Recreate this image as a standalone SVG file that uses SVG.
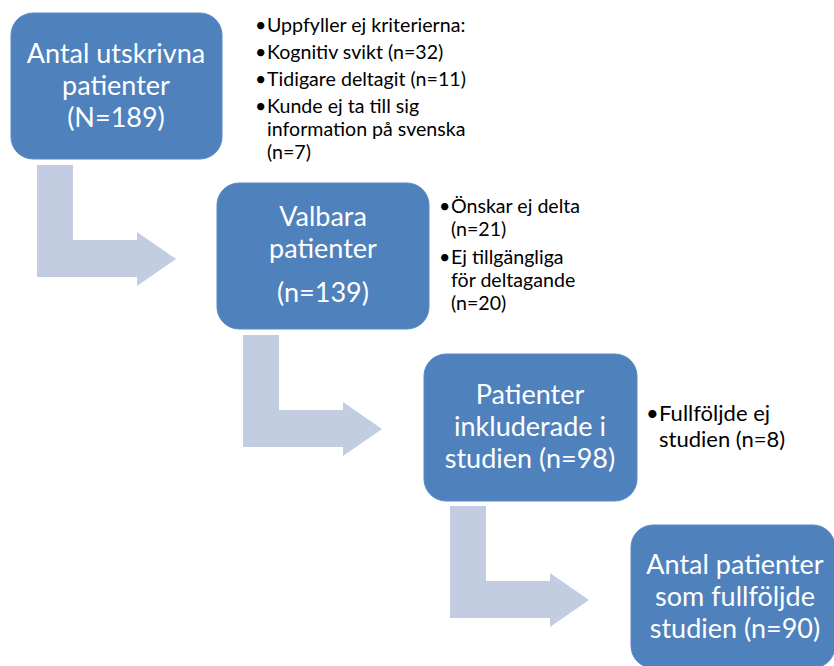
<svg xmlns="http://www.w3.org/2000/svg" width="834" height="666" viewBox="0 0 834 666">
<style>
.box{fill:#4F81BD;stroke:#5A8AC4;stroke-width:1}
.arrow{fill:#C3CDE2}
.bt{font-family:Lato,"Liberation Sans",sans-serif;font-size:27px;fill:#FFFFFF;text-anchor:middle}
.lt{font-family:Lato,"Liberation Sans",sans-serif;font-size:19.6px;fill:#000000}
.lt3{font-family:Lato,"Liberation Sans",sans-serif;font-size:22px;fill:#000000}
</style>
<rect width="834" height="666" fill="#FFFFFF"/>
<g id="connectors">
<path class="arrow" d="M37,165 H73 V240 H137 V232 L176,259 L137,286 V277 H37 Z"/>
<path class="arrow" d="M243,335 H279 V410 H343 V402 L382,429 L343,456 V447 H243 Z"/>
<path class="arrow" d="M450,506 H486 V581 H550 V573 L589,600 L550,627 V618 H450 Z"/>
</g>
<g id="node1">
<rect class="box" x="11" y="13" width="211" height="146" rx="22"/>
<text class="bt" x="116" y="63">Antal utskrivna</text>
<text class="bt" x="116" y="95">patienter</text>
<text class="bt" x="116" y="127">(N=189)</text>
</g>
<g id="list1">
<text class="lt" x="255" y="32">•</text><text class="lt" x="267" y="32">Uppfyller ej kriterierna:</text>
<text class="lt" x="255" y="59">•</text><text class="lt" x="267" y="59">Kognitiv svikt (n=32)</text>
<text class="lt" x="255" y="86">•</text><text class="lt" x="267" y="86">Tidigare deltagit (n=11)</text>
<text class="lt" x="255" y="113">•</text><text class="lt" x="267" y="113">Kunde ej ta till sig</text>
<text class="lt" x="267" y="136">information på svenska</text>
<text class="lt" x="267" y="159">(n=7)</text>
</g>
<g id="node2">
<rect class="box" x="217" y="183" width="212" height="146" rx="22"/>
<text class="bt" x="323" y="226">Valbara</text>
<text class="bt" x="323" y="258">patienter</text>
<text class="bt" x="323" y="302">(n=139)</text>
</g>
<g id="list2">
<text class="lt" x="439" y="213">•</text><text class="lt" x="451" y="213">Önskar ej delta</text>
<text class="lt" x="451" y="236">(n=21)</text>
<text class="lt" x="439" y="264">•</text><text class="lt" x="451" y="264">Ej tillgängliga</text>
<text class="lt" x="451" y="287">för deltagande</text>
<text class="lt" x="451" y="310">(n=20)</text>
</g>
<g id="node3">
<rect class="box" x="424" y="354" width="213" height="147" rx="22"/>
<text class="bt" x="530" y="404">Patienter</text>
<text class="bt" x="530" y="436">inkluderade i</text>
<text class="bt" x="530" y="468">studien (n=98)</text>
</g>
<g id="list3">
<text class="lt3" x="646" y="421">•</text><text class="lt3" x="659" y="421">Fullföljde ej</text>
<text class="lt3" x="659" y="447">studien (n=8)</text>
</g>
<g id="node4">
<rect class="box" x="631" y="525" width="204" height="143" rx="22"/>
<text class="bt" x="735" y="574">Antal patienter</text>
<text class="bt" x="735" y="606">som fullföljde</text>
<text class="bt" x="735" y="638">studien (n=90)</text>
</g>
</svg>
